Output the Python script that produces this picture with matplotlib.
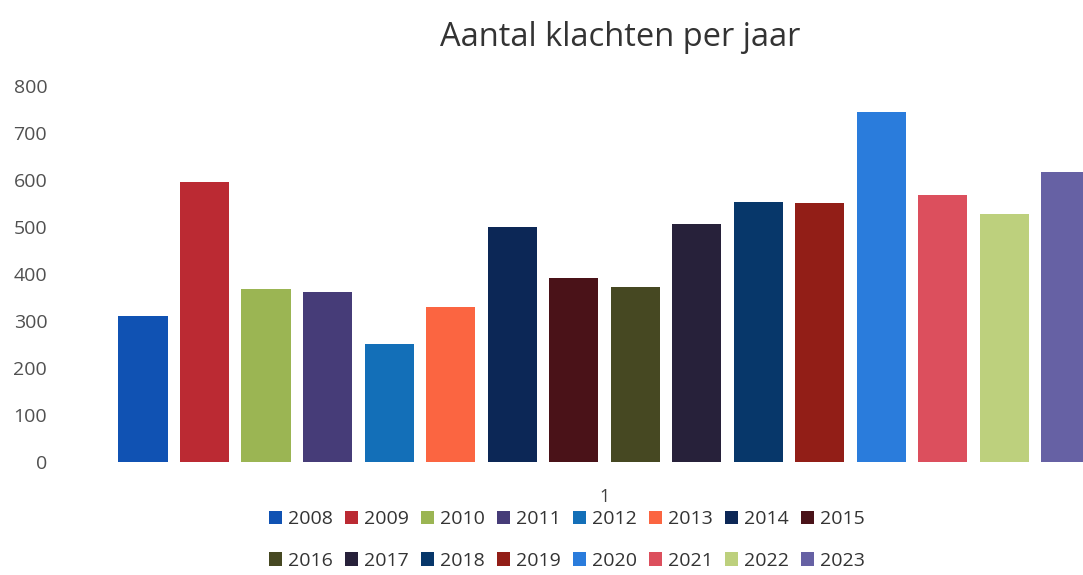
import numpy as np
import matplotlib
matplotlib.use("Agg")
import matplotlib.pyplot as plt

plt.rcParams['font.family'] = ['Open Sans', 'DejaVu Sans']

jaren = ['2008', '2009', '2010', '2011', '2012', '2013', '2014', '2015',
         '2016', '2017', '2018', '2019', '2020', '2021', '2022', '2023']
klachten = [310, 595, 368, 361, 252, 329, 500, 391,
            372, 507, 554, 552, 744, 569, 528, 618]
kleuren = ['#1052b3', '#bb2a33', '#9bb553', '#463c78', '#136fb8', '#fb6541',
           '#0c2756', '#4a1218', '#464822', '#27213a', '#07376a', '#921e17',
           '#2a7cdc', '#dc4f5d', '#bdd07d', '#6661a4']
categorie = '1'

W, H = 1083, 575
fig = plt.figure(figsize=(W / 100, H / 100), dpi=100)
ax = fig.add_axes([100 / W, (H - 462) / H, 1 - 100 / W, (462 - 86) / H])

pos = np.arange(len(jaren))
balken = []
for i, (jaar, val, kl) in enumerate(zip(jaren, klachten, kleuren)):
    b = ax.bar(pos[i], val, width=0.8, color=kl, label=jaar)
    balken.append(b)

ax.set_xlim(-0.70, 15.28)
ax.set_ylim(0, 800)
ax.set_yticks(range(0, 801, 100))
ax.tick_params(axis='y', length=0, pad=38, labelsize=14, labelcolor='#505050')
ax.set_xticks([(len(jaren) - 1) / 2])
ax.set_xticklabels([categorie])
ax.tick_params(axis='x', length=0, pad=19, labelsize=13, labelcolor='#404040')
for s in ax.spines.values():
    s.set_visible(False)

fig.text(620 / W, 1 - 38 / H, 'Aantal klachten per jaar', ha='center', va='center',
         fontsize=23.5, color='#333333')

# legend fills column by column, so interleave to get two rows of 8
volgorde = [j for i in range(8) for j in (i, i + 8)]
fig.legend([balken[k] for k in volgorde], [jaren[k] for k in volgorde],
           loc='center', bbox_to_anchor=(567 / W, 1 - 540 / H), ncol=8,
           frameon=False, fontsize=14, handlelength=0.7, handleheight=0.7,
           handletextpad=0.3, columnspacing=0.6, labelspacing=1.2,
           labelcolor='#333333')

fig.savefig('out.png', dpi=100)
